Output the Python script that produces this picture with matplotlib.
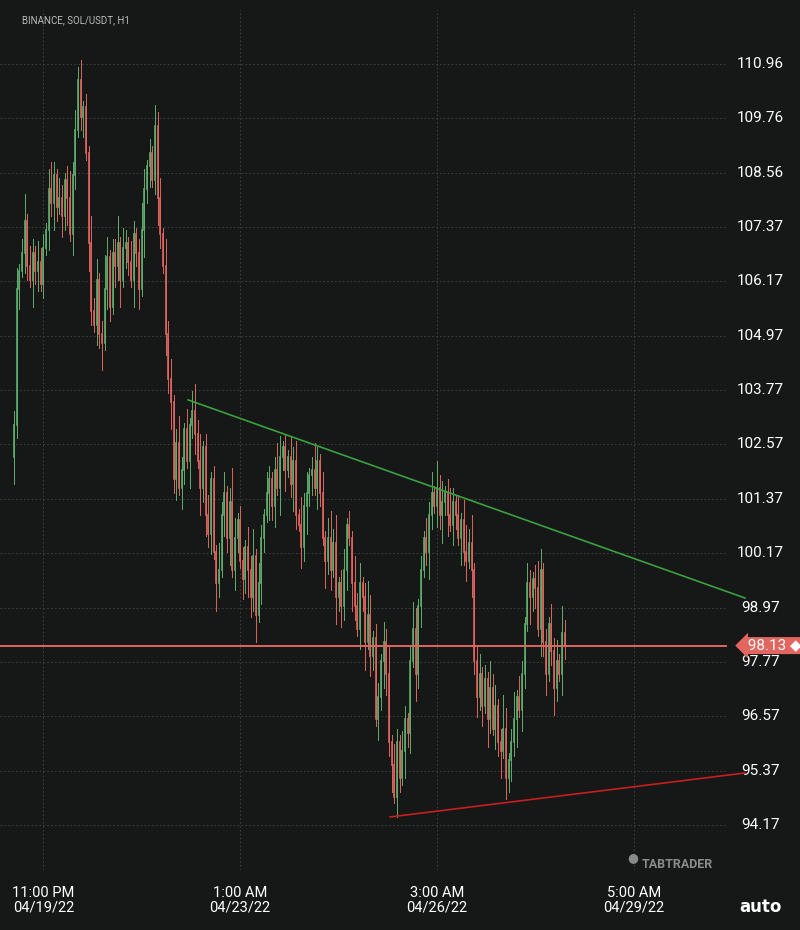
import matplotlib.pyplot as plt
import matplotlib.transforms as mtransforms
import numpy as np

# hourly closes
closes = [103.0, 106.0, 106.4, 106.8, 107.5, 106.5, 106.2, 106.8, 106.4, 106.6, 106.1, 106.9,
          107.3, 108.2, 107.9, 108.5, 107.8, 108.0, 107.6, 108.4, 108.0, 107.2, 108.5, 109.5, 110.6,
          109.8, 110.0, 109.0, 107.0, 105.5, 105.2, 106.2, 105.0, 104.8, 106.0, 106.7, 105.6,
          106.8, 106.5, 107.0, 106.2, 106.9, 107.0, 106.6, 106.2, 107.2, 106.8, 106.0, 107.3,
          108.2, 108.7, 109.0, 108.4, 109.6, 108.0, 107.2,
          106.5, 105.0, 104.0, 103.5, 101.8, 102.6, 101.6, 102.0, 102.9, 102.2, 103.0, 103.3,
          102.8, 102.2, 101.6, 102.5, 101.0, 100.6, 101.8, 100.2, 99.5, 99.8, 101.0, 101.5, 100.5,
          101.3, 99.8, 100.5, 100.9, 100.0, 99.6,
          100.3, 99.8, 99.2, 100.1, 98.8, 99.5, 100.5, 101.0, 101.5, 101.8, 101.2, 102.0, 101.6,
          102.3, 102.5, 102.0, 102.3, 101.7, 102.2,
          101.0, 100.8, 100.3, 101.2, 101.5, 101.9, 102.0, 101.6, 102.2, 101.5, 100.5, 100.0, 100.5,
          99.8, 100.4, 99.2, 99.5, 99.0, 99.8,
          100.8, 100.5, 99.5, 99.0, 98.5, 99.5, 99.2, 98.2, 98.8, 97.9, 98.3,
          96.5, 97.0, 97.8, 98.2, 97.5, 96.0, 95.5, 94.8, 96.0, 95.2, 95.8,
          96.5, 96.2, 97.8, 98.5, 97.5, 99.0, 99.8, 100.5, 100.2, 101.0, 101.5, 101.2, 101.6, 101.0, 101.3,
          101.5, 101.0, 100.8, 101.3, 101.0, 100.5, 100.9, 100.2, 100.0, 100.4, 99.8,
          97.8, 97.0, 97.5, 96.8, 97.4, 96.5, 97.2, 96.3, 96.8, 96.0, 95.8, 96.3,
          95.2, 95.6, 96.0, 96.5, 97.0, 96.7, 97.5, 98.6, 99.5, 99.2, 99.6,
          99.4, 98.5, 99.8, 98.2, 97.5, 98.6, 98.0, 97.2, 97.8, 97.5, 98.4, 98.13]
first_open = 102.3
# wick lengths in steps of 0.15 (upper / lower), estimated by eye
upper_w = "2312413213221342132124232" "3121423125312" "2413213212431" "21323142" \
          "31242131342412" "3121423125312213" "2413213212431" "21323142" \
          "31242131342412" "3121423125312213" "2413213212431" "21323142" \
          "31242131342412" "312142312531" "2413213212431" "21323142" "3124" "6"
lower_w = "4231321423121324213241321" "2314213241321" "3241321423142" "31242132" \
          "42313214231423" "2314213241321324" "3241321423142" "31242132" \
          "42313214231423" "2314213241321324" "3241321423142" "31242132" \
          "42313214231423" "231421324132" "3241321423142" "31242132" "4231" "2"

tick_pos = [11, 85, 159, 233]
tick_lab = ["11:00 PM\n04/19/22", "1:00 AM\n04/23/22", "3:00 AM\n04/26/22", "5:00 AM\n04/29/22"]
price_ticks = [110.96, 109.76, 108.56, 107.37, 106.17, 104.97, 103.77, 102.57,
               101.37, 100.17, 98.97, 97.77, 96.57, 95.37, 94.17]
last_price = 98.13
green_line = ([65.4, 274.8], [103.55, 99.18])
red_line = ([141.4, 274.8], [94.35, 95.32])

bg = "#161717"
up_c = "#5fae6e"
dn_c = "#e0665f"

fig = plt.figure(figsize=(8, 9.3), dpi=100, facecolor=bg)
ax = fig.add_axes([0, 60 / 930, 1, 860 / 930])
ax.set_facecolor(bg)
ax.set_xlim(-5.3, 295.5)
ax.set_ylim(93.18, 112.15)
ax.axis("off")

grid_end = 267.3
for p in price_ticks:
    ax.plot([-5.3, grid_end], [p, p], color="#3c3d3d", lw=0.8, ls=(0, (1.5, 2)), zorder=0)
    ax.text(280.5, p, f"{p:.2f}", color="white", fontsize=11, ha="center", va="center",
            family="Roboto")
for t in tick_pos:
    ax.axvline(t, color="#3c3d3d", lw=0.8, ls=(0, (1.5, 2)), zorder=0)

n = len(closes)
opens = [first_open] + closes[:-1]
for i in range(n):
    o, c = opens[i], closes[i]
    col = up_c if c >= o else dn_c
    hi = max(o, c) + int(upper_w[i % len(upper_w)]) * 0.15
    lo = min(o, c) - int(lower_w[i % len(lower_w)]) * 0.15
    ax.plot([i, i], [lo, hi], color=col, lw=0.7, zorder=2)
    ax.plot([i, i], [min(o, c), max(o, c)], color=col, lw=1.2, zorder=3)

ax.plot(*green_line, color="#3aa13f", lw=1.2, zorder=4, clip_on=False)
ax.plot(*red_line, color="#c81e1e", lw=1.2, zorder=4, clip_on=False)
ax.plot([-5.3, 267.5], [last_price, last_price], color=dn_c, lw=1.4, zorder=4)
ax.text(274.5, last_price, " 98.13 \u25c6", color="white", fontsize=11, ha="left", va="center",
        family=["Roboto", "DejaVu Sans"], zorder=6,
        bbox=dict(boxstyle="larrow,pad=0.1", fc=dn_c, ec="none"))

trans = mtransforms.blended_transform_factory(ax.transData, fig.transFigure)
for t, lab in zip(tick_pos, tick_lab):
    ax.text(t, 1 - 900 / 930, lab, transform=trans, color="white", fontsize=10.5,
            ha="center", va="center", linespacing=1.0, family="Roboto")
fig.text(760 / 800, 1 - 907 / 930, "auto", color="white", fontsize=12, fontweight="bold",
         ha="center", va="center", family="DejaVu Sans")
fig.text(642 / 800, 1 - 865 / 930, "TABTRADER", color="#8a8a8a", fontsize=9,
         fontweight="bold", ha="left", va="center", family="Roboto")
fig.text(633 / 800, 1 - 858 / 930, "\u25cf", color="#8a8a8a", fontsize=9, ha="center", va="center")
fig.text(22 / 800, 1 - 20 / 930, "BINANCE, SOL/USDT, H1", color="#bbbbbb", fontsize=7,
         ha="left", va="center", family="Roboto")

fig.savefig("out.png", facecolor=bg)
